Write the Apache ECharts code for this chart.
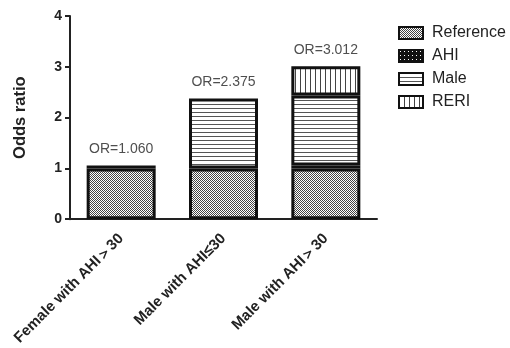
<!DOCTYPE html>
<html>
<head>
<meta charset="utf-8">
<script src="https://cdn.jsdelivr.net/npm/echarts@6/dist/echarts.min.js"></script>
<style>html,body{margin:0;padding:0;background:#fff}#c{width:510px;height:348px}</style>
</head>
<body>
<div id="c"></div>
<script>
var categories = ['Female with AHI\uFF1E30', 'Male with AHI\u226430', 'Male with AHI\uFF1E30'];
var reference = [1, 1, 1];
var ahi = [0.06, null, 0.06];
var male = [null, 1.375, 1.375];
var reri = [null, null, 0.577];
var orLabels = ['OR=1.060', 'OR=2.375', 'OR=3.012'];

function makePattern(w, h, draw) {
  var c = document.createElement('canvas');
  c.width = w; c.height = h;
  var ctx = c.getContext('2d');
  ctx.fillStyle = '#fff';
  ctx.fillRect(0, 0, w, h);
  draw(ctx);
  return { image: c, repeat: 'repeat' };
}
var refPat = makePattern(2, 2, function (ctx) {
  ctx.fillStyle = '#444';
  ctx.fillRect(0, 0, 1, 1);
  ctx.fillRect(1, 1, 1, 1);
});
var ahiPat = makePattern(4, 4, function (ctx) {
  ctx.fillStyle = '#111';
  ctx.fillRect(0, 0, 4, 4);
  ctx.fillStyle = '#fff';
  ctx.fillRect(1, 1, 1, 1);
});
var malePat = makePattern(4, 4, function (ctx) {
  ctx.fillStyle = '#555';
  ctx.fillRect(0, 0, 4, 1);
});
var reriPat = makePattern(5, 5, function (ctx) {
  ctx.fillStyle = '#444';
  ctx.fillRect(0, 0, 1, 5);
});

var totals = categories.map(function (c, i) {
  return (reference[i] || 0) + (ahi[i] || 0) + (male[i] || 0) + (reri[i] || 0);
});

var FONT = 'Liberation Sans, Arial, sans-serif';
function barSeries(name, data, pat) {
  return {
    name: name, type: 'bar', stack: 'or', data: data, barWidth: 69,
    itemStyle: { color: pat, borderColor: '#111', borderWidth: 3 },
    emphasis: { disabled: true }
  };
}

var chart = echarts.init(document.getElementById('c'), null, { renderer: 'canvas' });
chart.setOption({
  animation: false,
  backgroundColor: '#fff',
  textStyle: { fontFamily: FONT },
  grid: { left: 70, right: 133, top: 16, bottom: 127, containLabel: false },
  legend: {
    orient: 'vertical', left: 393, top: 20, itemWidth: 24, itemHeight: 12, itemGap: 7,
    selectedMode: false, icon: 'rect',
    data: ['Reference', 'AHI', 'Male', 'RERI'],
    itemStyle: { borderColor: '#111', borderWidth: 2 },
    textStyle: { fontFamily: FONT, fontSize: 16, color: '#222', padding: [0, 0, 0, 4] }
  },
  xAxis: {
    type: 'category', data: categories,
    axisLine: { lineStyle: { color: '#222', width: 2 } },
    axisTick: { alignWithLabel: true, length: 5, lineStyle: { color: '#222', width: 2 } },
    axisLabel: {
      rotate: 45, interval: 0, margin: 17, fontSize: 15, fontWeight: 'bold', color: '#222',
      fontFamily: FONT
    }
  },
  yAxis: {
    type: 'value', min: 0, max: 4, interval: 1,
    name: 'Odds ratio', nameLocation: 'middle', nameGap: 41, nameRotate: 90,
    nameTextStyle: { fontSize: 16.5, fontWeight: 'bold', color: '#222', fontFamily: FONT },
    axisLine: { show: true, lineStyle: { color: '#222', width: 2 } },
    axisTick: { show: true, length: 5, lineStyle: { color: '#222', width: 2 } },
    splitLine: { show: false },
    axisLabel: {
      margin: 8, fontSize: 14, fontWeight: 'bold', color: '#222', fontFamily: FONT
    }
  },
  series: [
    barSeries('Reference', reference, refPat),
    barSeries('AHI', ahi, ahiPat),
    barSeries('Male', male, malePat),
    barSeries('RERI', reri, reriPat),
    {
      name: 'labels', type: 'scatter', symbolSize: 0, silent: true,
      data: totals,
      label: {
        show: true, position: 'top', distance: 9, fontSize: 14, color: '#222', fontFamily: FONT,
        formatter: function (p) { return orLabels[p.dataIndex]; }
      }
    }
  ]
});
</script>
</body>
</html>
